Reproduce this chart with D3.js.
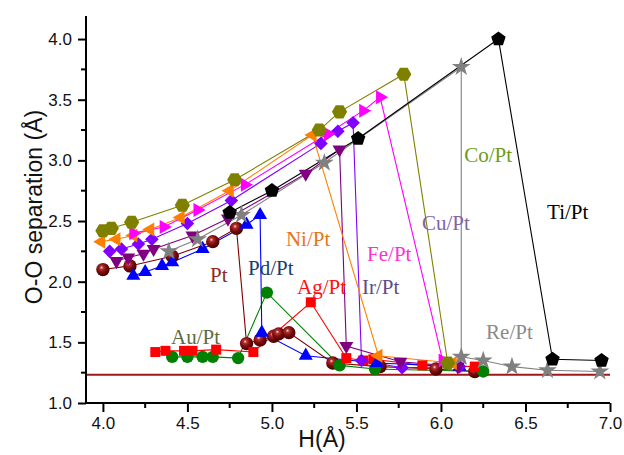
<!DOCTYPE html>
<html><head><meta charset="utf-8">
<script src="https://cdn.jsdelivr.net/npm/d3@7"></script>
<style>body{margin:0;background:#fff}svg{display:block}</style>
</head><body>
<svg id="c" width="624" height="455"></svg>
<script>
// ---- data ----
const tiX = [4.75, 5.00, 5.51, 6.34, 6.66, 6.95];
const tiY = [2.57, 2.75, 3.18, 4.00, 1.36, 1.35];
const reX = [4.39, 4.56, 4.82, 5.31, 6.12, 6.12, 6.25, 6.42, 6.63, 6.94];
const reY = [2.25, 2.35, 2.55, 2.98, 3.77, 1.38, 1.35, 1.30, 1.27, 1.26];
const coX = [4.00, 4.05, 4.17, 4.47, 4.78, 5.28, 5.40, 5.78, 6.04];
const coY = [2.42, 2.44, 2.49, 2.63, 2.84, 3.25, 3.40, 3.71, 1.33];
const niX = [3.99, 4.08, 4.18, 4.28, 4.46, 4.75, 5.24, 5.63, 6.07];
const niY = [2.33, 2.35, 2.38, 2.43, 2.53, 2.75, 3.21, 1.39, 1.33];
const feX = [4.18, 4.36, 4.56, 4.84, 5.33, 5.54, 5.64, 6.01];
const feY = [2.40, 2.45, 2.59, 2.80, 3.22, 3.41, 3.52, 1.35];
const irX = [4.08, 4.15, 4.24, 4.30, 4.53, 4.74, 5.20, 5.40, 5.44, 5.76, 6.10];
const irY = [2.17, 2.20, 2.23, 2.27, 2.38, 2.52, 2.89, 3.09, 1.47, 1.34, 1.30];
const cuX = [4.04, 4.11, 4.21, 4.29, 4.50, 4.76, 5.29, 5.39, 5.48, 5.53, 5.77, 6.11];
const cuY = [2.25, 2.27, 2.31, 2.35, 2.48, 2.67, 3.14, 3.24, 3.31, 1.35, 1.29, 1.30];
const pdX = [4.18, 4.25, 4.35, 4.41, 4.59, 4.85, 4.93, 4.94, 5.20, 5.62, 6.11];
const pdY = [2.05, 2.08, 2.13, 2.16, 2.27, 2.47, 2.55, 1.58, 1.39, 1.33, 1.30];
const agX = [4.31, 4.37, 4.48, 4.53, 4.67, 4.89, 5.23, 5.44, 5.54, 5.60, 5.89, 6.20];
const agY = [1.42, 1.43, 1.43, 1.43, 1.44, 1.42, 1.83, 1.37, 1.35, 1.36, 1.31, 1.30];
const auX = [4.41, 4.50, 4.59, 4.65, 4.80, 4.97, 5.40, 5.61, 6.25];
const auY = [1.38, 1.38, 1.38, 1.38, 1.37, 1.91, 1.31, 1.28, 1.26];
const ptX = [4.00, 4.16, 4.41, 4.65, 4.79, 4.85, 4.93, 5.01, 5.04, 5.10, 5.36, 5.64, 5.97, 6.20];
const ptY = [2.10, 2.13, 2.21, 2.33, 2.44, 1.49, 1.52, 1.55, 1.57, 1.58, 1.33, 1.30, 1.28, 1.26];
const refLineY = 1.233;
const xTicks = [4.0, 4.5, 5.0, 5.5, 6.0, 6.5, 7.0];
const yTicks = [1.0, 1.5, 2.0, 2.5, 3.0, 3.5, 4.0];
const labelNames = ["Co/Pt","Ti/Pt","Cu/Pt","Re/Pt","Fe/Pt","Ni/Pt","Pd/Pt","Ir/Pt","Ag/Pt","Pt","Au/Pt"];

// ---- layout ----
const svg = d3.select("#c");
const L = 86, R = 610, T = 16, B = 403;
const x = d3.scaleLinear().domain([3.9, 7.0]).range([L, R]);
const y = d3.scaleLinear().domain([1.0, 4.19]).range([B, T]);

// custom symbols
function poly(n, rot) {
  return { draw(ctx, size) {
    const r = Math.sqrt(size) * 0.62;
    for (let i = 0; i < n; i++) {
      const a = rot + i * 2 * Math.PI / n;
      const px = r * Math.sin(a), py = -r * Math.cos(a);
      if (i === 0) ctx.moveTo(px, py); else ctx.lineTo(px, py);
    }
    ctx.closePath();
  }};
}
const symPent = poly(5, 0);
const symHex = poly(6, Math.PI / 6);
const symTriUp = poly(3, 0);
const symTriDown = poly(3, Math.PI);
const symTriLeft = poly(3, -Math.PI / 2);
const symTriRight = poly(3, Math.PI / 2);

const defs = svg.append("defs");
const grad = defs.append("radialGradient").attr("id", "ball").attr("cx", "40%").attr("cy", "38%").attr("r", "60%").attr("fx", "40%").attr("fy", "35%");
grad.append("stop").attr("offset", "0%").attr("stop-color", "#f4dede");
grad.append("stop").attr("offset", "22%").attr("stop-color", "#b03030");
grad.append("stop").attr("offset", "60%").attr("stop-color", "#7a0a0a");
grad.append("stop").attr("offset", "100%").attr("stop-color", "#4a0000");

const series = [
  {xs: ptX, ys: ptY, color: "#800000", sym: d3.symbolCircle, size: 140, fill: "url(#ball)"},
  {xs: auX, ys: auY, color: "#008000", sym: d3.symbolCircle, size: 120},
  {xs: agX, ys: agY, color: "#ff0000", sym: d3.symbolSquare, size: 100},
  {xs: pdX, ys: pdY, color: "#0000ff", sym: symTriUp, size: 170},
  {xs: cuX, ys: cuY, color: "#8000ff", sym: symDiamondFn(), size: 120},
  {xs: irX, ys: irY, color: "#800080", sym: symTriDown, size: 170},
  {xs: niX, ys: niY, color: "#ff8000", sym: symTriLeft, size: 170},
  {xs: feX, ys: feY, color: "#ff00ff", sym: symTriRight, size: 170},
  {xs: coX, ys: coY, color: "#808000", sym: symHex, size: 150},
  {xs: reX, ys: reY, color: "#808080", sym: d3.symbolStar, size: 110},
  {xs: tiX, ys: tiY, color: "#000000", sym: symPent, size: 150}
];
function symDiamondFn() { return poly(4, 0); }

// reference line
svg.append("line").attr("x1", L).attr("x2", R).attr("y1", y(refLineY)).attr("y2", y(refLineY))
  .attr("stroke", "#a01818").attr("stroke-width", 2);

const line = d3.line().x(d => x(d[0])).y(d => y(d[1]));
series.forEach(s => {
  const pts = s.xs.map((v, i) => [v, s.ys[i]]);
  svg.append("path").attr("d", line(pts)).attr("fill", "none").attr("stroke", s.color).attr("stroke-width", 1.1);
});
series.forEach(s => {
  const pts = s.xs.map((v, i) => [v, s.ys[i]]);
  svg.append("g").selectAll("path").data(pts).join("path")
    .attr("transform", d => `translate(${x(d[0])},${y(d[1])})`)
    .attr("d", d3.symbol().type(s.sym).size(s.size))
    .attr("fill", s.fill || s.color);
});

// axes
const fontSans = "Liberation Sans, Arial, sans-serif";
const xAxis = d3.axisBottom(x).tickValues(xTicks).tickFormat(d3.format(".1f")).tickSize(9).tickPadding(5);
const gx = svg.append("g").attr("transform", `translate(0,${B})`).call(xAxis);
gx.selectAll(".tick").filter(d => false);
gx.select(".domain").attr("d", `M${L},0H${R}`);
const xMinor = [4.25, 4.75, 5.25, 5.75, 6.25, 6.75];
gx.selectAll(".minor").data(xMinor).join("line").attr("class", "minor")
  .attr("x1", d => x(d)).attr("x2", d => x(d)).attr("y1", 0).attr("y2", 5).attr("stroke", "#000").attr("stroke-width", 2);

const yAxis = d3.axisLeft(y).tickValues(yTicks).tickFormat(d3.format(".1f")).tickSize(8).tickPadding(6);
const gy = svg.append("g").attr("transform", `translate(${L},0)`).call(yAxis);
gy.select(".domain").attr("d", `M0,${T}V${B}`);
const yMinor = [1.25, 1.75, 2.25, 2.75, 3.25, 3.75];
gy.selectAll(".minor").data(yMinor).join("line").attr("class", "minor")
  .attr("y1", d => y(d)).attr("y2", d => y(d)).attr("x1", 0).attr("x2", -5).attr("stroke", "#000").attr("stroke-width", 2);

[gx, gy].forEach(g => {
  g.selectAll(".domain").attr("stroke", "#000").attr("stroke-width", 2);
  g.selectAll(".tick line").attr("stroke", "#000").attr("stroke-width", 2);
  g.selectAll(".tick text").attr("font-family", fontSans).attr("font-size", 17).attr("fill", "#111");
});

svg.append("text").attr("x", 322).attr("y", 447).attr("text-anchor", "middle")
  .attr("font-family", fontSans).attr("font-size", 23).attr("fill", "#111").text("H(Å)");
svg.append("text").attr("transform", "translate(42,207) rotate(-90)").attr("text-anchor", "middle")
  .attr("font-family", fontSans).attr("font-size", 23).attr("fill", "#111").text("O-O separation (Å)");

// annotations
const labels = [
  {t: labelNames[0], x: 6.137, y: 2.985, c: "#6a9c1a"},
  {t: labelNames[1], x: 6.628, y: 2.516, c: "#000000"},
  {t: labelNames[2], x: 5.888, y: 2.425, c: "#7f64a8"},
  {t: labelNames[3], x: 6.267, y: 1.527, c: "#8a8a8a"},
  {t: labelNames[4], x: 5.563, y: 2.170, c: "#ff30d0"},
  {t: labelNames[5], x: 5.083, y: 2.293, c: "#e8741c"},
  {t: labelNames[6], x: 4.859, y: 2.054, c: "#203a6a"},
  {t: labelNames[7], x: 5.533, y: 1.898, c: "#5e4a86"},
  {t: labelNames[8], x: 5.149, y: 1.898, c: "#ff1010"},
  {t: labelNames[9], x: 4.634, y: 1.997, c: "#8e2a22"},
  {t: labelNames[10], x: 4.403, y: 1.486, c: "#5e6c3c"}
];
svg.append("g").selectAll("text").data(labels).join("text")
  .attr("x", d => x(d.x)).attr("y", d => y(d.y))
  .attr("font-family", "Liberation Serif, Times New Roman, serif").attr("font-size", 21)
  .attr("fill", d => d.c).text(d => d.t);
</script>
</body></html>
